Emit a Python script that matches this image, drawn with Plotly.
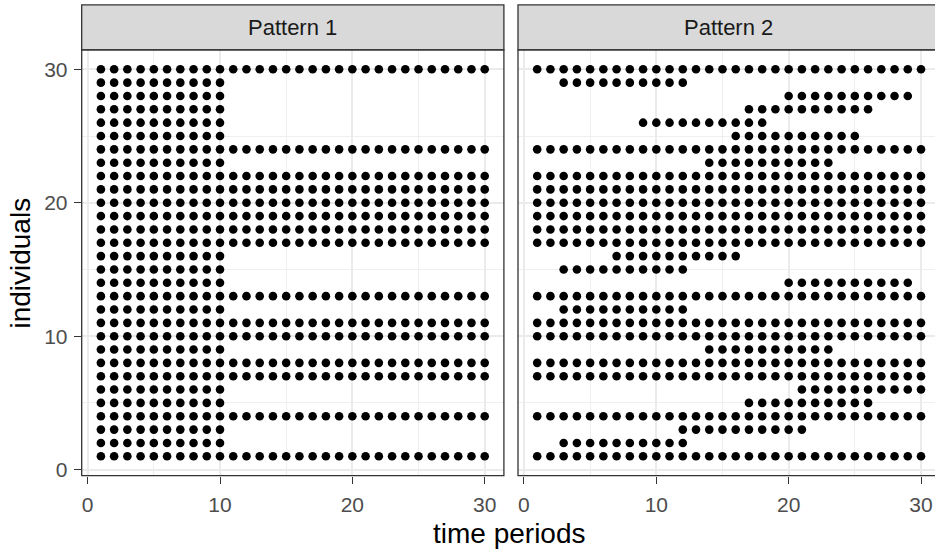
import plotly.graph_objects as go

# ---- data ----
individuals = list(range(1, 31))
periods = list(range(1, 31))
panels = ["Pattern 1", "Pattern 2"]

# first / last observed period for each individual (index 0 -> individual 1)
p1_first = [1] * 30
p1_last = [30, 10, 10, 30, 10, 10, 30, 30, 10, 30,
           30, 10, 30, 10, 10, 10, 30, 30, 30, 30,
           30, 30, 10, 30, 10, 10, 10, 10, 10, 30]

p2_first = [1, 3, 12, 1, 17, 21, 1, 1, 14, 1,
            1, 3, 1, 20, 3, 7, 1, 1, 1, 1,
            1, 1, 14, 1, 16, 9, 17, 20, 3, 1]
p2_last = [30, 12, 21, 30, 26, 30, 30, 30, 23, 30,
           30, 12, 30, 29, 12, 16, 30, 30, 30, 30,
           30, 30, 23, 30, 25, 18, 26, 29, 12, 30]

x_ticks = [0, 10, 20, 30]
y_ticks = [0, 10, 20, 30]


def expand(first, last):
    xs, ys = [], []
    for ind, a, b in zip(individuals, first, last):
        for t in periods:
            if a <= t <= b:
                xs.append(t)
                ys.append(ind)
    return xs, ys


W, H = 935, 550
# pixel geometry
p1_l, p1_r = 81.7, 503.9
p2_l, p2_r = 518.0, 939.5
pan_t, pan_b = 50.4, 480.0
strip_t = 5.0


def px(x):
    return x / W


def py(y):
    return 1 - y / H


FONT = "Liberation Sans, Arial, sans-serif"

fig = go.Figure()
x1, y1 = expand(p1_first, p1_last)
x2, y2 = expand(p2_first, p2_last)
mk = dict(color="black", size=8.6, line=dict(width=0))
fig.add_trace(go.Scatter(x=x1, y=y1, mode="markers", marker=mk, xaxis="x", yaxis="y",
                         showlegend=False, hoverinfo="skip"))
fig.add_trace(go.Scatter(x=x2, y=y2, mode="markers", marker=mk, xaxis="x2", yaxis="y2",
                         showlegend=False, hoverinfo="skip"))

tickfont = dict(family=FONT, size=21, color="#4D4D4D")


def axis_style(show_ticks=True):
    return dict(showgrid=True, gridcolor="#EBEBEB", gridwidth=1.8, zeroline=False,
                showline=False, ticks="outside" if show_ticks else "", ticklen=7,
                tickwidth=1.4, tickcolor="#333333", tickfont=tickfont, tickmode="array",
                minor=dict(tickmode="array", tickvals=[5, 15, 25], showgrid=True,
                           gridcolor="#EFEFEF", gridwidth=1.0, ticks=""))


rng = [-0.45, 31.45]
p2_range_end = rng[0] + (rng[1] - rng[0]) * (W - p2_l) / (p1_r - p1_l)
fig.update_layout(
    width=W, height=H,
    margin=dict(l=0, r=0, t=0, b=0),
    paper_bgcolor="white", plot_bgcolor="white",
    xaxis=dict(domain=[px(p1_l), px(p1_r)], range=rng, anchor="y",
               tickvals=x_ticks, ticklabelstandoff=3, **axis_style()),
    xaxis2=dict(domain=[px(p2_l), 1.0], range=[rng[0], p2_range_end], anchor="y2",
                tickvals=x_ticks, ticklabelstandoff=3, **axis_style()),
    yaxis=dict(domain=[py(pan_b), py(pan_t)], range=rng, anchor="x",
               tickvals=y_ticks, ticklabelstandoff=2, **axis_style()),
    yaxis2=dict(domain=[py(pan_b), py(pan_t)], range=rng, anchor="x2",
                tickvals=y_ticks, showticklabels=False, **axis_style(False)),
)

shapes = []
for l, r in [(p1_l, p1_r), (p2_l, p2_r)]:
    shapes.append(dict(type="rect", xref="paper", yref="paper",
                       x0=px(l), x1=px(r), y0=py(pan_t), y1=py(strip_t),
                       fillcolor="#D9D9D9", line=dict(color="#333333", width=1.3), layer="above"))
    shapes.append(dict(type="rect", xref="paper", yref="paper",
                       x0=px(l), x1=px(r), y0=py(pan_b), y1=py(pan_t),
                       fillcolor="rgba(0,0,0,0)", line=dict(color="#333333", width=1.3), layer="above"))
fig.update_layout(shapes=shapes)

ann = []
for name, l, r in [(panels[0], p1_l, p1_r), (panels[1], p2_l, p2_r)]:
    ann.append(dict(text=name, xref="paper", yref="paper", x=px((l + r) / 2), y=py(28),
                    xanchor="center", yanchor="middle", showarrow=False,
                    font=dict(family=FONT, size=22, color="#1A1A1A")))
ann.append(dict(text="time periods", xref="paper", yref="paper", x=px(510), y=py(538),
                xanchor="center", yanchor="middle", showarrow=False,
                font=dict(family=FONT, size=28, color="black")))
ann.append(dict(text="individuals", xref="paper", yref="paper", x=px(21), y=py(266),
                xanchor="center", yanchor="middle", showarrow=False, textangle=-90,
                font=dict(family=FONT, size=28, color="black")))
fig.update_layout(annotations=ann)

fig.write_html("out.html", post_script="document.body.style.margin='0';",
               config={"displayModeBar": False})
